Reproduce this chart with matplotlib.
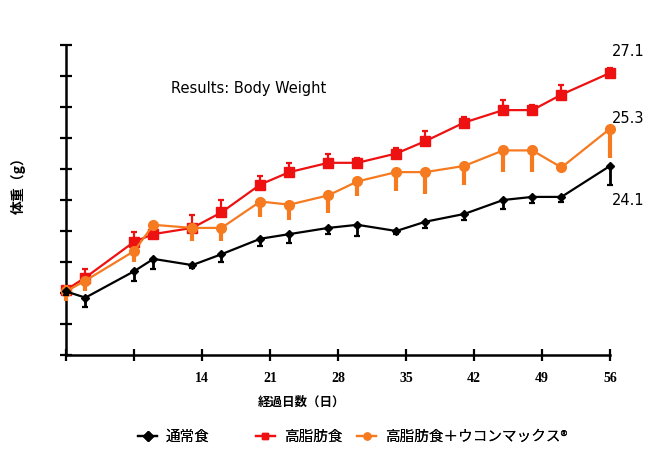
import matplotlib
matplotlib.use('Agg')
import matplotlib.pyplot as plt
from matplotlib.lines import Line2D
import numpy as np

plt.rcParams['font.family'] = ['Noto Sans CJK JP', 'DejaVu Sans']

# Data (g)
days = [0, 2, 7, 9, 13, 16, 20, 23, 27, 30, 34, 37, 41, 45, 48, 51, 56]
normal = [20.05, 19.85, 20.7, 21.1, 20.9, 21.25, 21.75, 21.9, 22.1, 22.2, 22.0, 22.3, 22.55, 23.0, 23.1, 23.1, 24.1]
normal_err = [0.1, 0.3, 0.32, 0.32, 0.1, 0.24, 0.22, 0.3, 0.2, 0.35, 0.1, 0.2, 0.2, 0.3, 0.2, 0.17, 0.62]
high_fat = [20.1, 20.5, 21.65, 21.9, 22.1, 22.6, 23.5, 23.9, 24.2, 24.2, 24.5, 24.9, 25.5, 25.9, 25.9, 26.4, 27.1]
high_fat_err = [0.1, 0.29, 0.32, 0.05, 0.42, 0.4, 0.29, 0.29, 0.29, 0.15, 0.18, 0.32, 0.17, 0.32, 0.18, 0.32, 0.17]
turmeric = [20.05, 20.4, 21.35, 22.2, 22.1, 22.1, 22.95, 22.85, 23.15, 23.6, 23.9, 23.9, 24.1, 24.6, 24.6, 24.05, 25.3]
turmeric_err = [0.3, 0.35, 0.36, 0.05, 0.43, 0.43, 0.5, 0.5, 0.57, 0.48, 0.62, 0.71, 0.63, 0.71, 0.71, 0.16, 0.94]
turmeric_err_up = [0.2, 0, 0, 0, 0, 0, 0, 0, 0, 0, 0, 0, 0, 0, 0, 0, 0]

labels = ['通常食', '高脂肪食', '高脂肪食＋ウコンマックス®']
colors = ['#000000', '#ee1111', '#f57a20']
markers = ['D', 's', 'o']
x_ticks = [0, 7, 14, 21, 28, 35, 42, 49, 56]
x_ticklabels = ['', '', '14', '21', '28', '35', '42', '49', '56']

zeros = np.zeros(len(days))

fig = plt.figure(figsize=(6.68, 4.66), dpi=100)
ax = fig.add_axes([0.0988, 0.2382, 0.8144, 0.6652])

# high fat (red), error bars upward
ax.errorbar(days, high_fat, yerr=[zeros, high_fat_err], color=colors[1],
            marker='s', markersize=7, linewidth=1.6, capsize=2.5,
            elinewidth=1.6, capthick=1.6, clip_on=False, zorder=3)
# turmeric (orange), thick error bars downward, no caps
ax.errorbar(days, turmeric, yerr=[turmeric_err, turmeric_err_up], color=colors[2],
            marker='o', markersize=7, linewidth=1.6, capsize=0,
            elinewidth=3, clip_on=False, zorder=4)
# normal (black), error bars downward
ax.errorbar(days, normal, yerr=[normal_err, zeros], color=colors[0],
            marker='D', markersize=4.5, linewidth=1.6, capsize=2.5,
            elinewidth=2, capthick=1.6, clip_on=False, zorder=5)

ax.set_xlim(0, 56)
ax.set_ylim(18, 28)
ax.set_yticks(np.arange(18, 29, 1))
ax.set_yticklabels([])
ax.set_xticks(x_ticks)
ax.set_xticklabels(x_ticklabels, fontfamily='Liberation Serif',
                   fontweight='bold', fontsize=10)
ax.tick_params(axis='both', direction='inout', length=8, width=1.6)
ax.tick_params(axis='x', pad=8)
for s in ['top', 'right']:
    ax.spines[s].set_visible(False)
for s in ['left', 'bottom']:
    ax.spines[s].set_linewidth(1.8)

# end values
ax.text(56.2, 27.8, '27.1', fontsize=10.5, family='DejaVu Sans', ha='left', va='center')
ax.text(56.2, 25.62, '25.3', fontsize=10.5, family='DejaVu Sans', ha='left', va='center')
ax.text(56.2, 23.0, '24.1', fontsize=10.5, family='DejaVu Sans', ha='left', va='center')

fig.text(0.372, 0.811, 'Results: Body Weight', fontsize=10.5, family='DejaVu Sans',
         ha='center', va='center')
fig.text(0.027, 0.61, '体重（g）', rotation=90, fontsize=10, fontweight='bold',
         ha='center', va='center')
fig.text(0.451, 0.137, '経過日数（日）', fontsize=9, fontweight='bold',
         ha='center', va='center')

# legend entries placed individually
legend_x = [0.207, 0.383, 0.535]
for lab, col, mk, lx in zip(labels, colors, markers, legend_x):
    h = Line2D([], [], color=col, marker=mk, markersize=5, linewidth=1.6)
    leg = fig.legend([h], [lab], loc='center left', bbox_to_anchor=(lx, 0.062),
                     frameon=False, fontsize=10.5, handlelength=1.3,
                     handletextpad=0.6, borderpad=0, borderaxespad=0)
    fig.add_artist(leg)

plt.savefig('out.png', dpi=100)
